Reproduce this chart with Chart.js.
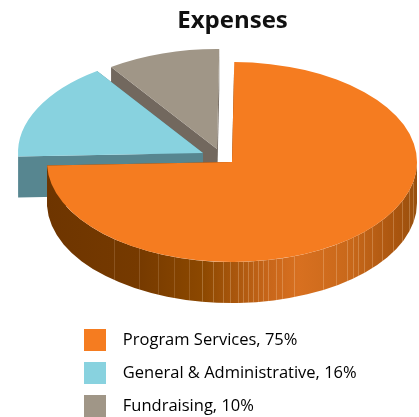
<!DOCTYPE html>
<html lang="en">

<head>
  <meta charset="UTF-8">
  <title>Expenses</title>
  <script src="https://cdn.jsdelivr.net/npm/chart.js"></script>
  <style>
    html, body { margin: 0; padding: 0; background: #fff; }
    canvas { display: block; }
  </style>
</head>

<body>
  <canvas id="expenses" width="419" height="417"></canvas>

  <script>
    const labels = ["Program Services", "General & Administrative", "Fundraising"];
    const values = [75, 16, 10];

    const topColors = ['#f57c20', '#88d2df', '#a09687'];
    const sideColors = ['#6e3500', '#578690', '#72685e'];

    // look of the tilted pie, in pixels
    const pieCenter = { x: 232, y: 162 };
    const pieRadius = { x: 185, y: 100 };
    const pieDepth = 41;
    const explode = [[0, 0], [-29, -9], [-15, -13]];

    // shading along the orange rim, left to right
    const rimStops = [[0, '#6e3500'], [0.25, '#763a00'], [0.42, '#8c4800'], [0.6, '#c8661a'], [0.68, '#d87020'], [0.82, '#c8681a'], [0.95, '#a8540e'], [1, '#97500f']];
    // thin seams on the rim, as fraction of the radius from the center
    const rimSeams = [-0.64, -0.505, -0.40, -0.314, -0.233, -0.162, -0.103, -0.05, -0.01, 0.03, 0.059, 0.086, 0.113, 0.14, 0.167, 0.195, 0.238, 0.27, 0.335, 0.492, 0.562, 0.621, 0.654, 0.681, 0.714, 0.757, 0.811, 0.87, 0.919, 0.957, 0.978];

    const tiltedPie = {
      id: 'tiltedPie',
      afterLayout(chart) {
        // title sits over the pie, legend under it
        chart.titleBlock.left += 23;
        chart.titleBlock.right += 23;
        const legend = chart.legend;
        const h = legend.height;
        legend.left = 73;
        legend.top = 318;
        legend.right = chart.width;
        legend.bottom = legend.top + h;
      },
      beforeDatasetsDraw(chart) {
        const ctx = chart.ctx;
        const arcs = chart.getDatasetMeta(0).data;
        // back to front
        for (let i = arcs.length - 1; i >= 0; i--) {
          const arc = arcs[i];
          const cx = pieCenter.x + explode[i][0];
          const cy = pieCenter.y + explode[i][1];
          drawSides(ctx, arc, i, cx, cy);

          ctx.save();
          ctx.translate(cx, cy);
          ctx.scale(pieRadius.x / arc.outerRadius, pieRadius.y / arc.outerRadius);
          ctx.translate(-arc.x, -arc.y);
          arc.draw(ctx);
          ctx.restore();
        }
        return false;
      }
    };

    function drawSides(ctx, arc, i, cx, cy) {
      const rx = pieRadius.x, ry = pieRadius.y;

      // cut faces
      ctx.fillStyle = sideColors[i];
      [arc.startAngle, arc.endAngle].forEach(a => {
        const ex = cx + Math.cos(a) * rx, ey = cy + Math.sin(a) * ry;
        ctx.beginPath();
        ctx.moveTo(cx, cy);
        ctx.lineTo(ex, ey);
        ctx.lineTo(ex, ey + pieDepth);
        ctx.lineTo(cx, cy + pieDepth);
        ctx.closePath();
        ctx.fill();
      });

      // outer rim, only the part facing us
      const from = Math.max(arc.startAngle, 0);
      const to = Math.min(arc.endAngle, Math.PI);
      if (to <= from) return;
      ctx.beginPath();
      ctx.ellipse(cx, cy, rx, ry, 0, from, to);
      ctx.ellipse(cx, cy + pieDepth, rx, ry, 0, to, from, true);
      ctx.closePath();
      if (i === 0) {
        const grad = ctx.createLinearGradient(cx + Math.cos(to) * rx, 0, cx + rx, 0);
        rimStops.forEach(s => grad.addColorStop(s[0], s[1]));
        ctx.fillStyle = grad;
      }
      ctx.fill();

      if (i === 0) {
        ctx.lineWidth = 1;
        rimSeams.forEach(f => {
          const x = Math.round(cx + f * rx) + 0.5;
          const y = cy + ry * Math.sqrt(1 - f * f);
          // seams get fainter towards the dark left side
          ctx.strokeStyle = 'rgba(255, 225, 190, ' + (f < -0.2 ? 0.16 : 0.26) + ')';
          ctx.beginPath();
          ctx.moveTo(x, y);
          ctx.lineTo(x, y + pieDepth);
          ctx.stroke();
        });
      }
    }

    new Chart(document.getElementById('expenses'), {
      type: 'pie',
      data: {
        labels: labels,
        datasets: [{
          data: values,
          backgroundColor: topColors,
          borderWidth: 0
        }]
      },
      options: {
        responsive: false,
        animation: false,
        rotation: 0.7,
        plugins: {
          title: {
            display: true,
            text: 'Expenses',
            color: '#111',
            font: { family: 'Open Sans', size: 24, weight: 'bold' },
            padding: { top: 7, bottom: 5 }
          },
          legend: {
            position: 'left',
            align: 'start',
            labels: {
              boxWidth: 22,
              boxHeight: 22,
              padding: 11,
              color: '#4a4a4a',
              font: { family: 'Open Sans', size: 16.5 },
              generateLabels: chart => labels.map((name, i) => ({
                text: '  ' + name + ', ' + values[i] + '%',
                fillStyle: topColors[i],
                strokeStyle: topColors[i],
                lineWidth: 0,
                index: i
              }))
            }
          },
          tooltip: { enabled: false }
        }
      },
      plugins: [tiltedPie]
    });
  </script>
</body>

</html>
